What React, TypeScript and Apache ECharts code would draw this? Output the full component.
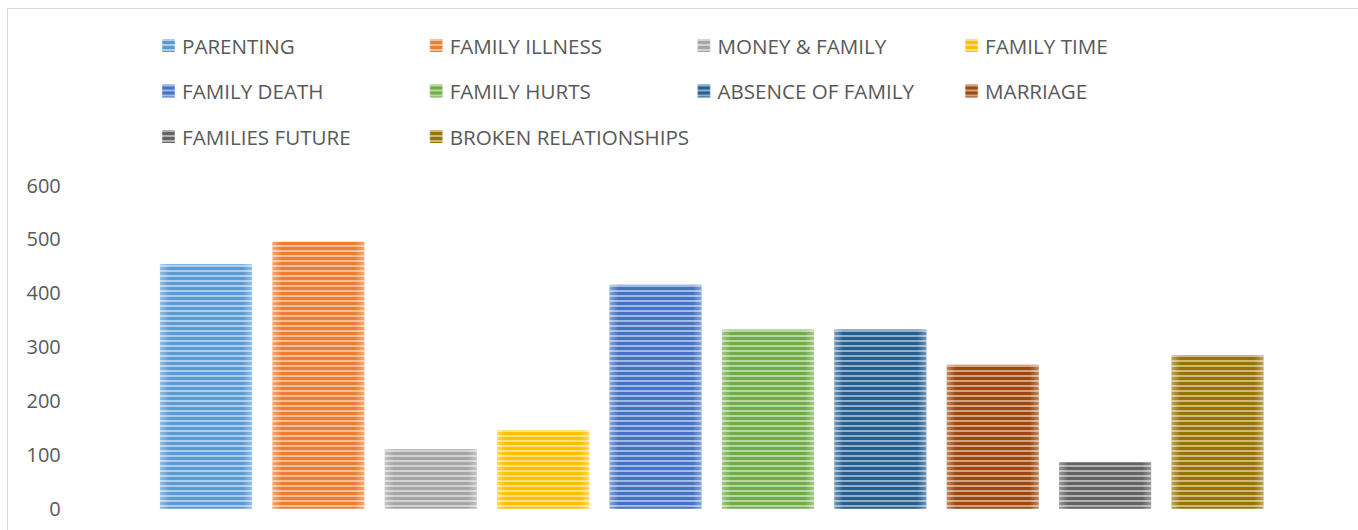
import React, { useEffect, useRef } from "react";
import * as echarts from "echarts";

const categories = [
  "PARENTING",
  "FAMILY ILLNESS",
  "MONEY & FAMILY",
  "FAMILY TIME",
  "FAMILY DEATH",
  "FAMILY HURTS",
  "ABSENCE OF FAMILY",
  "MARRIAGE",
  "FAMILIES FUTURE",
  "BROKEN RELATIONSHIPS",
];
const values = [453, 495, 110, 146, 415, 332, 332, 267, 86, 285];
const colors = [
  "#5B9BD5",
  "#ED7D31",
  "#A5A5A5",
  "#FFC000",
  "#4472C4",
  "#70AD47",
  "#255E91",
  "#9E480E",
  "#636363",
  "#997300",
];
const yTicks = [0, 100, 200, 300, 400, 500, 600];

function mix(hex: string, t: number) {
  const n = parseInt(hex.slice(1), 16);
  const r = (n >> 16) & 255, g = (n >> 8) & 255, b = n & 255;
  const m = (c: number) => Math.round(c + (255 - c) * t);
  return `rgb(${m(r)},${m(g)},${m(b)})`;
}

export default function App() {
  const ref = useRef<HTMLDivElement>(null);
  useEffect(() => {
    if (!ref.current) return;
    const chart = echarts.init(ref.current, undefined, { renderer: "svg" });
    const font = "'Open Sans', sans-serif";
    const series = categories.map((name, i) => ({
      name,
      type: "bar",
      stack: "total",
      barWidth: "82%",
      data: categories.map((_, j) => (j === i ? values[i] : "-")),
      itemStyle: {
        color: new echarts.graphic.LinearGradient(0, 0, 1, 0, [
          { offset: 0, color: mix(colors[i], 0.35) },
          { offset: 0.1, color: colors[i] },
          { offset: 0.9, color: colors[i] },
          { offset: 1, color: mix(colors[i], 0.35) },
        ]),
        decal: {
          symbol: "rect",
          symbolSize: 1,
          dashArrayX: [1, 0],
          dashArrayY: [2, 2.3],
          rotation: 0,
          color: "rgba(255,255,255,0.5)",
        },
      },
    }));
    const legends = [0, 1, 2, 3].map((col) => ({
      orient: "vertical",
      left: 162 + col * 267.7,
      top: 35,
      padding: 0,
      itemWidth: 13,
      itemHeight: 13,
      itemGap: 24.5,
      icon: "rect",
      data: categories.filter((_, i) => i % 4 === col),
      textStyle: {
        fontFamily: font,
        fontSize: 20.6,
        color: "#595959",
        padding: [0, 0, 0, 2],
      },
    }));
    chart.setOption({
      animation: false,
      aria: { enabled: true, decal: { show: true } },
      legend: legends,
      grid: { left: 149.8, right: 84.3, top: 185, bottom: 21.3 },
      xAxis: {
        type: "category",
        data: categories,
        show: false,
      },
      yAxis: {
        type: "value",
        min: yTicks[0],
        max: yTicks[yTicks.length - 1],
        interval: 100,
        axisLine: { show: false },
        axisTick: { show: false },
        splitLine: { show: false },
        axisLabel: {
          margin: 89,
          fontFamily: font,
          fontSize: 20,
          color: "#595959",
        },
      },
      graphic: [
        { type: "line", shape: { x1: 7.5, y1: 8, x2: 7.5, y2: 530 }, style: { stroke: "#d9d9d9", lineWidth: 1 } },
        { type: "line", shape: { x1: 7, y1: 8.5, x2: 1358, y2: 8.5 }, style: { stroke: "#d9d9d9", lineWidth: 1 } },
      ],
      series,
    });
    return () => chart.dispose();
  }, []);
  return (
    <div
      ref={ref}
      style={{ position: "fixed", left: 0, top: 0, width: 1358, height: 530, background: "#fff" }}
    />
  );
}
